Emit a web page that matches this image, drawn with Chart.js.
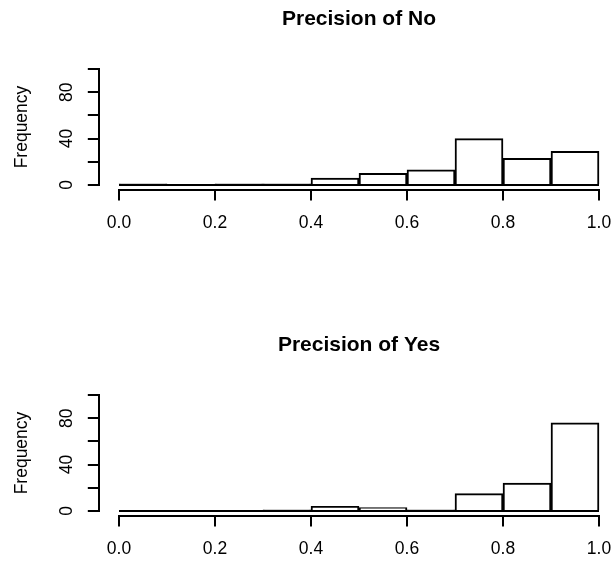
<!DOCTYPE html>
<html>
<head>
<meta charset="utf-8">
<script src="https://cdn.jsdelivr.net/npm/chart.js@4.4.1/dist/chart.umd.min.js"></script>
<style>
  html, body { margin: 0; padding: 0; background: #fff; overflow: hidden; width: 611px; height: 563px; }
  canvas { position: absolute; left: 0; }
  #c1 { top: 0px; }
  #c2 { top: 326px; }
</style>
</head>
<body>
<canvas id="c1" width="640" height="300"></canvas>
<canvas id="c2" width="640" height="300"></canvas>
<script>
// ---- data ----
const binEdges = [0.0, 0.1, 0.2, 0.3, 0.4, 0.5, 0.6, 0.7, 0.8, 0.9, 1.0];
const countsNo  = [1, 0, 1, 1, 6, 10, 13, 40, 23, 29];
const countsYes = [0, 0, 0, 1, 4, 3, 1, 15, 24, 76];
const titles = ["Precision of No", "Precision of Yes"];
const xTickValues = [0.0, 0.2, 0.4, 0.6, 0.8, 1.0];
const xTickLabels = ["0.0", "0.2", "0.4", "0.6", "0.8", "1.0"];
const yTickValues = [0, 20, 40, 60, 80, 100];
const yTickLabels = ["0", "", "40", "", "80", ""];
const yLabel = "Frequency";

const FAMILY = "'Liberation Sans', Arial, Helvetica, sans-serif";
const CANVAS_H = 300;
const AREA_LEFT = 99.8, AREA_RIGHT = 618.2, AREA_BOTTOM = 189.6;
const LINE_W = 2;

// R-style axes: axis lines only over the tick range, rotated y tick labels
const rAxes = {
  id: 'rAxes',
  afterDraw(chart) {
    const ctx = chart.ctx;
    const xs = chart.scales.x, ys = chart.scales.y;
    const area = chart.chartArea;
    ctx.save();
    ctx.strokeStyle = '#000';
    ctx.lineWidth = LINE_W;
    ctx.lineCap = 'square';
    const yb = Math.round(area.bottom);
    ctx.beginPath();
    ctx.moveTo(xs.getPixelForValue(xTickValues[0]), yb);
    ctx.lineTo(xs.getPixelForValue(xTickValues[xTickValues.length - 1]), yb);
    ctx.stroke();
    const xl = Math.round(area.left) - 1;
    ctx.beginPath();
    ctx.moveTo(xl, ys.getPixelForValue(yTickValues[0]));
    ctx.lineTo(xl, ys.getPixelForValue(yTickValues[yTickValues.length - 1]));
    ctx.stroke();
    ctx.fillStyle = '#000';
    ctx.font = "17.5px " + FAMILY;
    ctx.textAlign = 'center';
    ctx.textBaseline = 'middle';
    yTickValues.forEach((v, i) => {
      if (!yTickLabels[i]) return;
      ctx.save();
      ctx.translate(area.left - 33, ys.getPixelForValue(v));
      ctx.rotate(-Math.PI / 2);
      ctx.fillText(yTickLabels[i], 0, 0);
      ctx.restore();
    });
    ctx.restore();
  }
};

function makeChart(id, title, counts) {
  const barData = counts.map((c, i) => ({ x: (binEdges[i] + binEdges[i + 1]) / 2, y: c }));
  const baseData = [{ x: binEdges[0], y: 0 }, { x: binEdges[binEdges.length - 1], y: 0 }];
  return new Chart(document.getElementById(id), {
    type: 'bar',
    data: {
      datasets: [
        {
          type: 'line',
          data: baseData,
          borderColor: '#000',
          borderWidth: LINE_W,
          pointRadius: 0,
          order: 0
        },
        {
          type: 'bar',
          data: barData,
          backgroundColor: '#fff',
          borderColor: '#000',
          borderWidth: LINE_W,
          borderSkipped: 'start',
          barPercentage: 1,
          categoryPercentage: 1,
          order: 1
        }
      ]
    },
    options: {
      responsive: false,
      animation: false,
      events: [],
      layout: { padding: { left: 0, right: 640 - AREA_RIGHT, top: 0, bottom: 0 } },
      plugins: {
        legend: { display: false },
        tooltip: { enabled: false },
        title: {
          display: true,
          text: title,
          fullSize: false,
          color: '#000',
          font: { family: FAMILY, size: 21, weight: 'bold' },
          padding: { top: 6.8, bottom: 32.4 }
        }
      },
      scales: {
        x: {
          type: 'linear',
          min: -0.04,
          max: 1.04,
          offset: false,
          afterBuildTicks: s => { s.ticks = xTickValues.map(v => ({ value: v })); },
          afterFit: s => { s.height = CANVAS_H - AREA_BOTTOM; },
          ticks: {
            callback: (v, i) => xTickLabels[i],
            color: '#000',
            font: { family: FAMILY, size: 17.5 },
            padding: 12.5,
            autoSkip: false,
            maxRotation: 0
          },
          grid: { display: true, offset: false, drawOnChartArea: false, drawTicks: true, tickLength: 11, color: '#000', lineWidth: LINE_W },
          border: { display: false }
        },
        y: {
          type: 'linear',
          min: -4,
          max: 104,
          afterBuildTicks: s => { s.ticks = yTickValues.map(v => ({ value: v })); },
          afterFit: s => { s.width = AREA_LEFT; },
          ticks: { display: false },
          grid: { display: true, drawOnChartArea: false, drawTicks: true, tickLength: 12, color: '#000', lineWidth: LINE_W },
          border: { display: false },
          title: {
            display: true,
            text: yLabel,
            color: '#000',
            font: { family: FAMILY, size: 17.5 },
            padding: { top: 11.2, bottom: 0 }
          }
        }
      }
    },
    plugins: [rAxes]
  });
}

makeChart('c1', titles[0], countsNo);
makeChart('c2', titles[1], countsYes);
</script>
</body>
</html>
